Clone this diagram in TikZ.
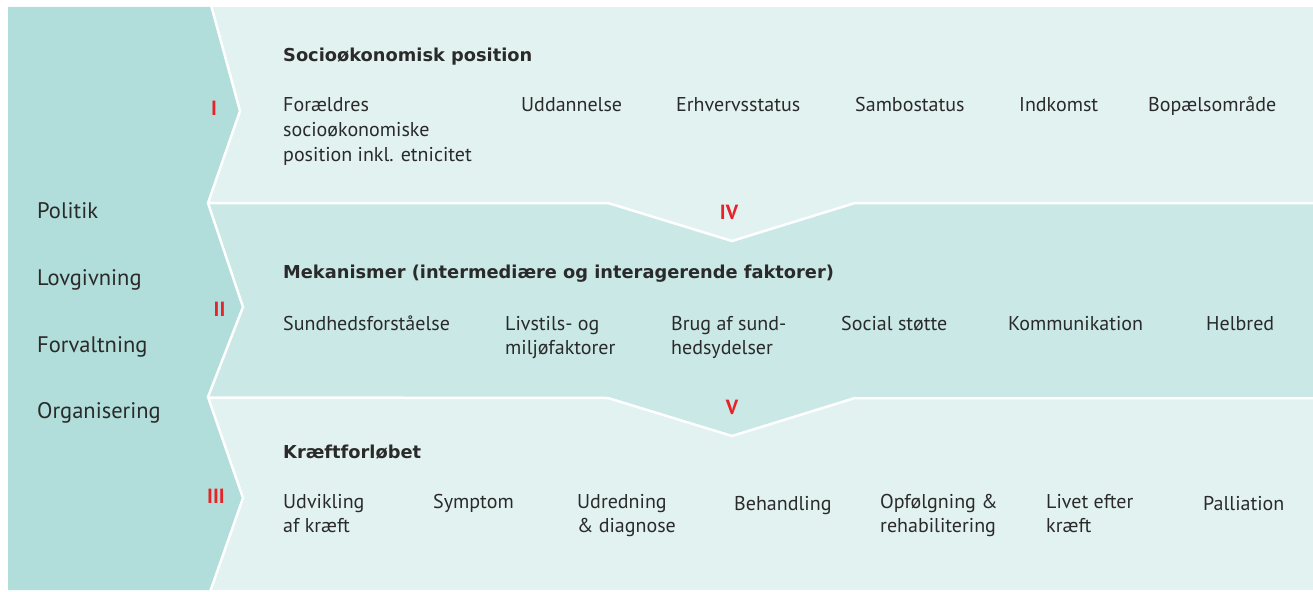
\documentclass[tikz,border=0pt]{standalone}
\usepackage{fontspec}
\setmainfont{PT Sans}
\newfontfamily\headfont{DejaVu Sans}
\definecolor{panel}{HTML}{B1DEDA}
\definecolor{bandlight}{HTML}{E2F2F1}
\definecolor{bandmid}{HTML}{C9E8E6}
\definecolor{ink}{HTML}{2A2A2A}
\definecolor{numred}{HTML}{E52329}
% stacked lines, baseline of the block = baseline of its first line
\newlength{\lnskip}
\setlength{\lnskip}{24.5pt}
\newcommand{\lns}[1]{\vtop{\baselineskip=\lnskip\lineskiplimit=-100pt\halign{##\hfil\cr#1\crcr}}}
\begin{document}
\begin{tikzpicture}[x=1pt,y=-1pt,
  item/.style={anchor=base west, inner sep=0pt, text=ink, font=\fontsize{20}{24}\selectfont},
  head/.style={anchor=base west, inner sep=0pt, text=ink, font=\headfont\fontsize{17.8}{22}\selectfont\bfseries},
  side/.style={anchor=base west, inner sep=0pt, text=ink, font=\fontsize{22.5}{26}\selectfont},
  roman/.style={anchor=center, inner sep=0pt, text=numred, font=\fontsize{20.5}{24}\selectfont\bfseries},
  sep/.style={draw=white, line width=2.5pt, line join=miter}]
\useasboundingbox (0,0) rectangle (1313,591);

% bands
\fill[bandlight] (205,7) rectangle (1313,590);
\fill[bandmid] (205,203) -- (608,203) -- (732,241) -- (855,203) -- (1313,203)
  -- (1313,398) -- (855,398) -- (732,436) -- (608,398) -- (205,398) -- cycle;
% left column with its three chevrons
\fill[panel] (8,7) -- (211,7) -- (240,111) -- (208,203) -- (243,307) -- (208,397)
  -- (243,498) -- (210,590) -- (8,590) -- cycle;
% white separators
\draw[sep] (211,5) -- (240,111) -- (208,203) -- (243,307) -- (208,397) -- (243,498) -- (210,592);
\draw[sep] (208,203) -- (608,203) -- (732,241) -- (855,203) -- (1314,203);
\draw[sep] (208,397.5) -- (608,398) -- (732,436) -- (855,398) -- (1314,398);

% left column
\node[side] (pol) at (37,218) {Politik};
\node[side] (lov) at (37,285) {Lovgivning};
\node[side] (forv) at (37,352) {Forvaltning};
\node[side] (org) at (37,418) {Organisering};

% roman numerals
\node[roman] (r1) at (214,108.5) {I};
\node[roman] (r2) at (219.5,309) {II};
\node[roman] (r3) at (216,496) {III};
\node[roman] (r4) at (729,212) {IV};
\node[roman] (r5) at (732,407) {V};

% band I
\node[head] (h1) at (283,62) {Socioøkonomisk position};
\node[item] (a1) at (283,112) {\lns{Forældres\cr socioøkonomiske\cr position inkl. etnicitet}};
\node[item] (a2) at (521,112) {Uddannelse};
\node[item] (a3) at (676,112) {Erhvervsstatus};
\node[item] (a4) at (855,112) {Sambostatus};
\node[item] (a5) at (1019,112) {Indkomst};
\node[item] (a6) at (1148,112) {Bopælsområde};

% band II
\node[head] (h2) at (283,278) {Mekanismer (intermediære og interagerende faktorer)};
\node[item] (b1) at (283,330) {Sundhedsforståelse};
\node[item] (b2) at (505,330) {\lns{Livstils- og\cr miljøfaktorer}};
\node[item] (b3) at (671,330) {\lns{Brug af sund-\cr hedsydelser}};
\node[item] (b4) at (841,330) {Social støtte};
\node[item] (b5) at (1008,330) {Kommunikation};
\node[item] (b6) at (1206,330) {Helbred};

% band III
\node[head] (h3) at (283,458) {Kræftforløbet};
\node[item] (c1) at (283,508) {\lns{Udvikling\cr af kræft}};
\node[item] (c2) at (433,508) {Symptom};
\node[item] (c3) at (577,508) {\lns{Udredning\cr \& diagnose}};
\node[item] (c4) at (734,510) {Behandling};
\node[item] (c5) at (880,508) {\lns{Opfølgning \&\cr rehabilitering}};
\node[item] (c6) at (1046,508) {\lns{Livet efter\cr kræft}};
\node[item] (c7) at (1203,510) {Palliation};
\end{tikzpicture}
\end{document}
